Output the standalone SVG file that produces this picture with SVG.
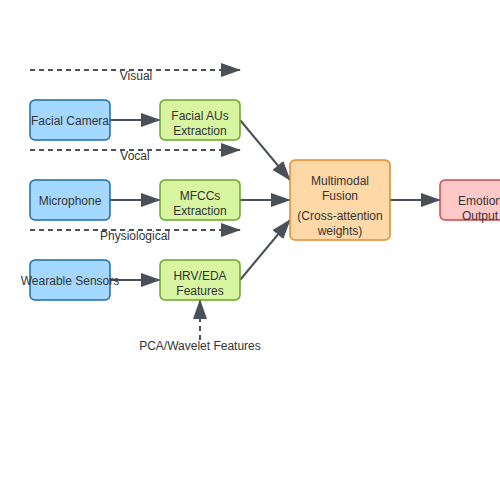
<svg xmlns="http://www.w3.org/2000/svg" width="500" height="500" viewBox="0 0 500 500">
<defs>
<marker id="ah" markerWidth="10" markerHeight="8" refX="9" refY="4" orient="auto" markerUnits="userSpaceOnUse" viewBox="0 0 10 8">
<path d="M0,0 L10,4 L0,8 Z" fill="#495057"/>
</marker>
<marker id="ahb" markerWidth="20" markerHeight="14" refX="19" refY="7" orient="auto" markerUnits="userSpaceOnUse" viewBox="0 0 20 14">
<path d="M0,0 L20,7 L0,14 Z" fill="#495057"/>
</marker>
</defs>
<style>
text{font-family:"Liberation Sans",Arial,sans-serif;font-size:12px;fill:#333;text-anchor:middle}
.in rect{fill:#a5d8ff;stroke:#1c6bb0;stroke-width:1.5}
.pr rect{fill:#d8f5a2;stroke:#6ca32a;stroke-width:1.5}
.fu rect{fill:#ffd8a8;stroke:#e8892a;stroke-width:1.5}
.ou rect{fill:#ffc9c9;stroke:#d04848;stroke-width:1.5}
.c{stroke:#495057;stroke-width:2;fill:none;marker-end:url(#ahb)}
.d{stroke:#495057;stroke-width:2;fill:none;stroke-dasharray:5 4;marker-end:url(#ahb)}
</style>
<rect width="500" height="500" fill="#fff"/>
<g id="connectors">
<line class="d" x1="30" y1="70" x2="240" y2="70"/>
<line class="d" x1="30" y1="150" x2="240" y2="150"/>
<line class="d" x1="30" y1="230" x2="240" y2="230"/>
<line class="d" x1="200" y1="340" x2="200" y2="300"/>
<line class="c" x1="110" y1="120" x2="160" y2="120"/>
<line class="c" x1="110" y1="200" x2="160" y2="200"/>
<line class="c" x1="110" y1="280" x2="160" y2="280"/>
<line class="c" x1="240" y1="120" x2="290" y2="180"/>
<line class="c" x1="240" y1="200" x2="290" y2="200"/>
<line class="c" x1="240" y1="280" x2="290" y2="220"/>
<line class="c" x1="390" y1="200" x2="440" y2="200"/>
<text x="136" y="80">Visual</text>
<text x="135" y="160">Vocal</text>
<text x="135" y="240">Physiological</text>
<text x="200" y="350">PCA/Wavelet Features</text>
</g>
<g id="facial-camera" class="in"><rect x="30" y="100" width="80" height="40" rx="5"/><text x="70" y="125">Facial Camera</text></g>
<g id="microphone" class="in"><rect x="30" y="180" width="80" height="40" rx="5"/><text x="70" y="205">Microphone</text></g>
<g id="wearable-sensors" class="in"><rect x="30" y="260" width="80" height="40" rx="5"/><text x="70" y="285">Wearable Sensors</text></g>
<g id="facial-aus" class="pr"><rect x="160" y="100" width="80" height="40" rx="5"/><text x="200" y="120">Facial AUs</text><text x="200" y="135">Extraction</text></g>
<g id="mfccs" class="pr"><rect x="160" y="180" width="80" height="40" rx="5"/><text x="200" y="200">MFCCs</text><text x="200" y="215">Extraction</text></g>
<g id="hrv-eda" class="pr"><rect x="160" y="260" width="80" height="40" rx="5"/><text x="200" y="280">HRV/EDA</text><text x="200" y="295">Features</text></g>
<g id="fusion" class="fu"><rect x="290" y="160" width="100" height="80" rx="5"/><text x="340" y="185">Multimodal</text><text x="340" y="200">Fusion</text><text x="340" y="220">(Cross-attention</text><text x="340" y="235">weights)</text></g>
<g id="emotion-output" class="ou"><rect x="440" y="180" width="80" height="40" rx="5"/><text x="480" y="205">Emotion</text><text x="480" y="220">Output</text></g>
</svg>
